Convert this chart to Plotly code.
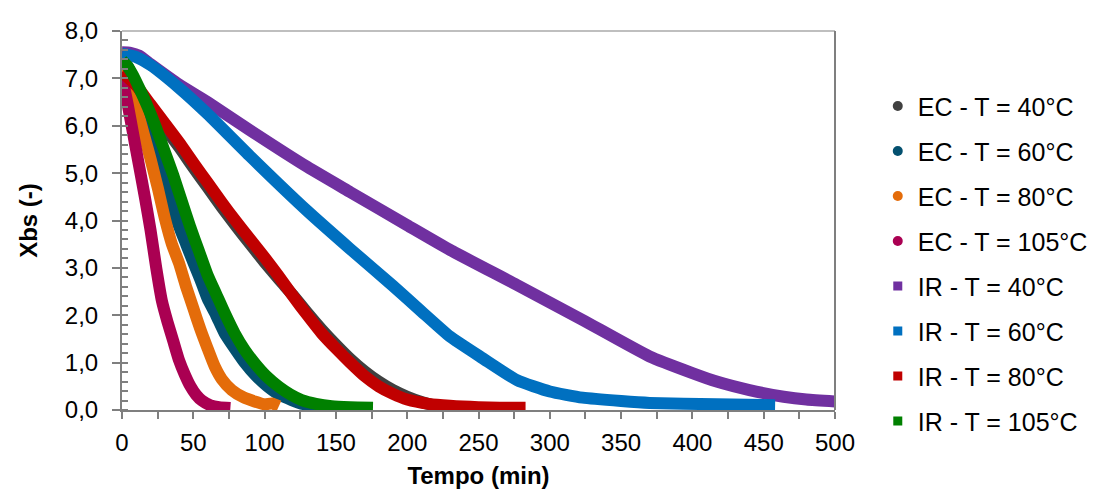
import plotly.graph_objects as go

# Drying curves: dry-basis moisture (Xbs) versus time for convective (EC) and infrared (IR) drying
ec40_t = [0, 5, 10, 20, 30, 40, 50, 60, 70, 80, 90, 100, 110, 120, 130, 140, 150, 160, 170, 180, 190, 200, 210, 220, 230]
ec40_x = [7.45, 7.1, 6.8, 6.35, 5.95, 5.55, 5.12, 4.7, 4.28, 3.88, 3.5, 3.12, 2.76, 2.42, 2.05, 1.7, 1.38, 1.08, 0.82, 0.6, 0.42, 0.28, 0.17, 0.09, 0.04]

ec60_t = [0, 5, 10, 15, 20, 25, 30, 35, 40, 45, 50, 55, 60, 66, 72, 79, 86, 94, 102, 110, 119, 128, 140]
ec60_x = [7.45, 7.2, 6.75, 6.2, 5.7, 5.2, 4.75, 4.3, 3.88, 3.5, 3.12, 2.75, 2.35, 2.0, 1.62, 1.3, 1.0, 0.72, 0.5, 0.33, 0.21, 0.12, 0.07]

ec80_t = [0, 3, 6, 10, 15, 20, 25, 30, 35, 40, 45, 50, 55, 60, 65, 70, 77, 85, 93, 100, 105, 110]
ec80_x = [7.4, 7.2, 6.9, 6.4, 5.85, 5.3, 4.7, 4.05, 3.5, 3.1, 2.6, 2.15, 1.7, 1.3, 0.92, 0.65, 0.42, 0.27, 0.18, 0.12, 0.14, 0.08]

ec105_t = [0, 4, 8, 12, 16, 20, 24, 28, 32, 36, 40, 44, 48, 52, 56, 62, 68, 76]
ec105_x = [7.05, 6.45, 5.8, 5.15, 4.5, 3.8, 3.0, 2.3, 1.85, 1.45, 1.05, 0.75, 0.5, 0.32, 0.2, 0.1, 0.06, 0.04]

ir40_t = [0, 6, 12, 20, 40, 60, 90, 130, 160, 200, 230, 277, 323, 370, 400, 417, 440, 464, 480, 500]
ir40_x = [7.55, 7.54, 7.48, 7.3, 6.87, 6.5, 5.9, 5.13, 4.6, 3.9, 3.38, 2.64, 1.9, 1.13, 0.78, 0.6, 0.42, 0.28, 0.22, 0.18]

ir60_t = [0, 10, 20, 40, 60, 90, 130, 160, 190, 210, 230, 253, 277, 300, 323, 350, 370, 417, 458]
ir60_x = [7.52, 7.45, 7.28, 6.8, 6.25, 5.35, 4.2, 3.4, 2.62, 2.08, 1.55, 1.09, 0.63, 0.39, 0.26, 0.19, 0.15, 0.12, 0.1]

ir80_t = [0, 10, 20, 30, 40, 50, 60, 70, 80, 90, 100, 110, 120, 130, 140, 150, 160, 170, 180, 190, 200, 215, 230, 250, 265, 283]
ir80_x = [7.13, 6.85, 6.45, 6.05, 5.65, 5.22, 4.8, 4.38, 3.98, 3.6, 3.22, 2.82, 2.4, 2.0, 1.62, 1.3, 1.0, 0.72, 0.5, 0.34, 0.22, 0.13, 0.09, 0.06, 0.05, 0.05]

ir105_t = [0, 4, 8, 12, 18, 24, 30, 36, 42, 48, 54, 60, 66, 72, 79, 86, 93, 101, 110, 118, 126, 136, 147, 160, 176]
ir105_x = [7.38, 7.25, 7.05, 6.8, 6.4, 5.95, 5.45, 4.95, 4.4, 3.85, 3.35, 2.85, 2.45, 2.05, 1.62, 1.27, 0.99, 0.72, 0.49, 0.33, 0.21, 0.13, 0.08, 0.06, 0.05]

series = [
    ("EC - T = 40°C", ec40_t, ec40_x, "#404040", "circle"),
    ("EC - T = 60°C", ec60_t, ec60_x, "#03506F", "circle"),
    ("EC - T = 80°C", ec80_t, ec80_x, "#E46C0A", "circle"),
    ("EC - T = 105°C", ec105_t, ec105_x, "#AA0052", "circle"),
    ("IR - T = 40°C", ir40_t, ir40_x, "#7030A0", "square"),
    ("IR - T = 60°C", ir60_t, ir60_x, "#0070C0", "square"),
    ("IR - T = 80°C", ir80_t, ir80_x, "#C00000", "square"),
    ("IR - T = 105°C", ir105_t, ir105_x, "#008000", "square"),
]

FONT = "Liberation Sans, Arial, sans-serif"
AXIS_GREY = "#7f7f7f"

fig = go.Figure()
for name, t, x, color, symbol in series:
    # thick band drawn through the measured points
    fig.add_trace(go.Scatter(
        x=t, y=x, mode="lines",
        line=dict(color=color, width=12, shape="spline", smoothing=0.5),
        showlegend=False, hoverinfo="skip",
    ))
for name, t, x, color, symbol in series:
    # legend key with the marker symbol of each series
    fig.add_trace(go.Scatter(
        x=[None], y=[None], mode="markers", name=name, legendgroup=name,
        marker=dict(color=color, symbol=symbol, size=10 if symbol == "circle" else 9),
    ))

fig.update_layout(
    width=1099, height=494,
    margin=dict(l=122, r=264, t=31, b=84, autoexpand=False),
    paper_bgcolor="white", plot_bgcolor="white",
    separators=",.",
    font=dict(family=FONT, size=24, color="#000000"),
    legend=dict(
        x=1.06, y=0.862, xanchor="left", yanchor="top",
        font=dict(family=FONT, size=25, color="#000000"),
        tracegroupgap=9.5, bgcolor="rgba(0,0,0,0)",
    ),
    xaxis=dict(
        range=[0, 500], dtick=50, tick0=0,
        showgrid=False, zeroline=False,
        showline=True, linecolor=AXIS_GREY, linewidth=2,
        ticks="outside", ticklen=7, tickwidth=1.5, tickcolor=AXIS_GREY,
        minor=dict(dtick=25, ticks="outside", ticklen=7, tickwidth=1.5, tickcolor=AXIS_GREY),
        tickfont=dict(size=24), ticklabelstandoff=3,
        title=dict(text="<b>Tempo (min)</b>", font=dict(size=24), standoff=12),
    ),
    yaxis=dict(
        range=[0, 8], dtick=1, tick0=0, tickformat=".1f",
        showgrid=False, zeroline=False,
        showline=True, linecolor=AXIS_GREY, linewidth=2,
        ticks="outside", ticklen=8, tickwidth=1.5, tickcolor=AXIS_GREY,
        minor=dict(dtick=0.2, ticks="inside", ticklen=6, tickwidth=1.5, tickcolor=AXIS_GREY),
        tickfont=dict(size=24), ticklabelstandoff=9,
        title=dict(text="<b>Xbs (-)</b>", font=dict(size=24), standoff=20),
    ),
)

# plot-area frame on the top and right
fig.add_shape(type="line", xref="paper", yref="paper", x0=0, x1=1, y0=1, y1=1,
              line=dict(color="#bfbfbf", width=2))
fig.add_shape(type="line", xref="paper", yref="paper", x0=1, x1=1, y0=0, y1=1,
              line=dict(color=AXIS_GREY, width=2))

fig.write_html("out.html")
